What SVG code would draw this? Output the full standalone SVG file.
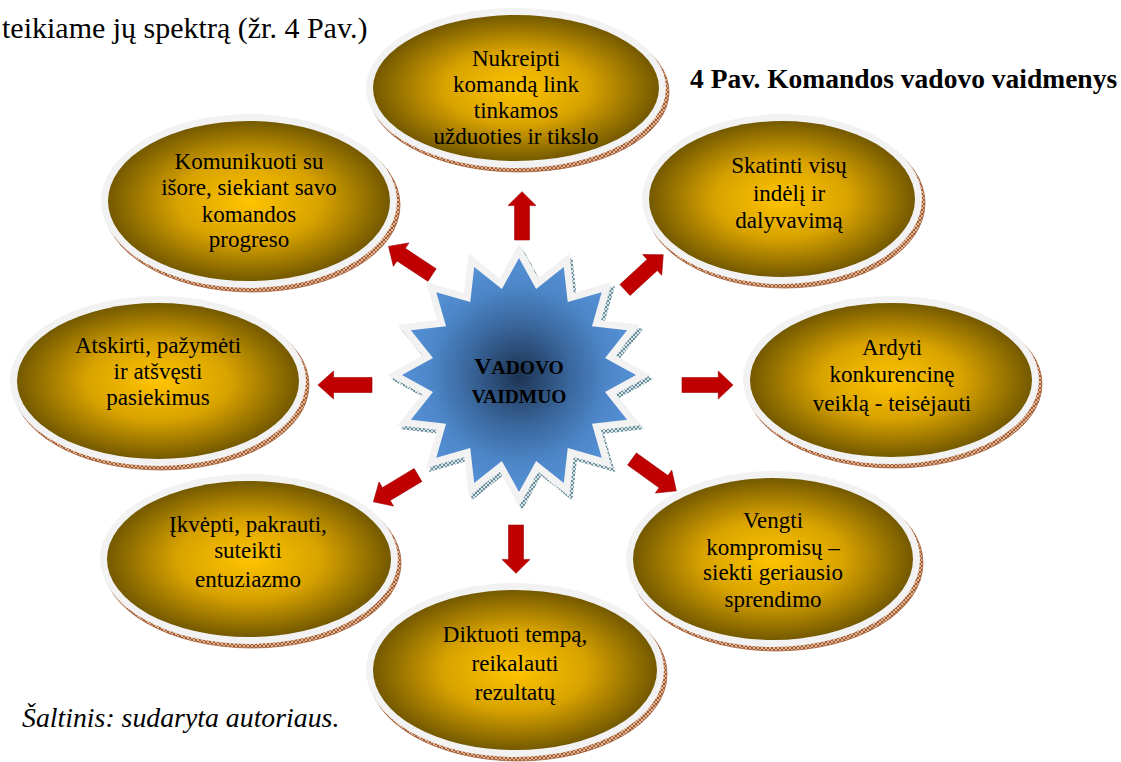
<svg xmlns="http://www.w3.org/2000/svg" width="1121" height="762" viewBox="0 0 1121 762">
<defs>
<radialGradient id="gold" cx="50%" cy="50%" r="50%">
<stop offset="0" stop-color="#ffc400"/>
<stop offset="0.5" stop-color="#d9a300"/>
<stop offset="1" stop-color="#745900"/>
</radialGradient>
<radialGradient id="blue" gradientUnits="userSpaceOnUse" cx="0" cy="0" r="117">
<stop offset="0" stop-color="#1d3352"/>
<stop offset="0.45" stop-color="#3a689e"/>
<stop offset="0.75" stop-color="#4d86c8"/>
<stop offset="1" stop-color="#5590d6"/>
</radialGradient>
<pattern id="hatchB" width="4" height="4" patternUnits="userSpaceOnUse">
<rect width="4" height="4" fill="#e2b898"/>
<path d="M0 4L4 0M0 0L4 4" stroke="#9a5028" stroke-width="0.9"/>
</pattern>
<pattern id="hatchT" width="4" height="4" patternUnits="userSpaceOnUse">
<rect width="4" height="4" fill="#d6e3e8"/>
<path d="M0 4L4 0M0 0L4 4" stroke="#4f7a88" stroke-width="0.8"/>
</pattern>
<path id="star" d="M0,-117 L17.12,-86.06 L44.77,-108.09 L48.75,-72.96 L82.73,-82.73 L72.96,-48.75 L108.09,-44.77 L86.06,-17.12 L117,0 L86.06,17.12 L108.09,44.77 L72.96,48.75 L82.73,82.73 L48.75,72.96 L44.77,108.09 L17.12,86.06 L0,117 L-17.12,86.06 L-44.77,108.09 L-48.75,72.96 L-82.73,82.73 L-72.96,48.75 L-108.09,44.77 L-86.06,17.12 L-117,0 L-86.06,-17.12 L-108.09,-44.77 L-72.96,-48.75 L-82.73,-82.73 L-48.75,-72.96 L-44.77,-108.09 L-17.12,-86.06 Z"/>
<path id="arrow" d="M0,-7.5 L37,-7.5 L37,-14 L52,0 L37,14 L37,7.5 L0,7.5 Z"/>
</defs>
<style>
.shadow{fill:url(#hatchB);stroke:#9a5028;stroke-width:0.7}
.rim{fill:#f2f2f2}
.core{fill:url(#gold)}
.t{font-size:23px;fill:#000;text-anchor:middle}
.arr{fill:#c00000;stroke:#a00000;stroke-width:0.6}
</style>

<g font-family="Liberation Serif, Times New Roman, serif" fill="#000">
<text x="2" y="38" font-size="30">teikiame jų spektrą (žr. 4 Pav.)</text>
<text x="690" y="88" font-size="27.5" font-weight="bold">4 Pav. Komandos vadovo vaidmenys</text>
<text x="22" y="727" font-size="27.8" font-style="italic">Šaltinis: sudaryta autoriaus.</text>
</g>

<g id="connectors">
<use href="#arrow" class="arr" transform="translate(522,240) rotate(-90) scale(0.93,1)"/>
<use href="#arrow" class="arr" transform="translate(516,525) rotate(90) scale(0.93,1)"/>
<use href="#arrow" class="arr" transform="translate(372,385) rotate(180) scale(1.04,1)"/>
<use href="#arrow" class="arr" transform="translate(682,385) rotate(0) scale(0.98,1)"/>
<use href="#arrow" class="arr" transform="translate(432,275) rotate(-146.6)"/>
<use href="#arrow" class="arr" transform="translate(625,290) rotate(-42.7)"/>
<use href="#arrow" class="arr" transform="translate(418,475) rotate(149)"/>
<use href="#arrow" class="arr" transform="translate(632,459) rotate(35.7) scale(1.05,1)"/>
</g>

<g font-family="Liberation Serif, Times New Roman, serif">
<g id="center">
<use href="#star" transform="translate(522,379)" fill="url(#hatchT)" stroke="url(#hatchT)" stroke-width="14" stroke-miterlimit="10"/>
<use href="#star" transform="translate(519,375)" fill="#f2f2f2" stroke="#f2f2f2" stroke-width="14" stroke-miterlimit="10"/>
<use href="#star" transform="translate(519,375)" fill="url(#blue)"/>
<text x="519" y="374" font-weight="bold" fill="#000" text-anchor="middle"><tspan font-size="24">V</tspan><tspan font-size="19.5">ADOVO</tspan></text>
<text x="519" y="403" font-weight="bold" font-size="19.5" fill="#000" text-anchor="middle">VAIDMUO</text>
</g>

<g id="n1">
<ellipse class="shadow" cx="519" cy="92" rx="150" ry="80"/>
<ellipse class="rim" cx="516" cy="88" rx="150" ry="80"/>
<ellipse class="core" cx="516" cy="88" rx="143" ry="73"/>
<text class="t" x="516" y="66">Nukreipti</text>
<text class="t" x="516" y="92">komandą link</text>
<text class="t" x="516" y="118">tinkamos</text>
<text class="t" x="516" y="144">užduoties ir tikslo</text>
</g>

<g id="n2">
<ellipse class="shadow" cx="252" cy="205" rx="148" ry="87"/>
<ellipse class="rim" cx="249" cy="201" rx="148" ry="87"/>
<ellipse class="core" cx="249" cy="201" rx="141" ry="80"/>
<text class="t" x="249" y="169">Komunikuoti su</text>
<text class="t" x="249" y="195">išore, siekiant savo</text>
<text class="t" x="249" y="222">komandos</text>
<text class="t" x="249" y="247">progreso</text>
</g>

<g id="n3">
<ellipse class="shadow" cx="785" cy="203" rx="140" ry="85"/>
<ellipse class="rim" cx="782" cy="199" rx="140" ry="85"/>
<ellipse class="core" cx="782" cy="199" rx="133" ry="78"/>
<text class="t" x="789" y="173">Skatinti visų</text>
<text class="t" x="789" y="201">indėlį ir</text>
<text class="t" x="789" y="228">dalyvavimą</text>
</g>

<g id="n4">
<ellipse class="shadow" cx="161" cy="385" rx="148" ry="85"/>
<ellipse class="rim" cx="158" cy="381" rx="148" ry="85"/>
<ellipse class="core" cx="158" cy="381" rx="141" ry="78"/>
<text class="t" x="158" y="353">Atskirti, pažymėti</text>
<text class="t" x="158" y="379">ir atšvęsti</text>
<text class="t" x="158" y="405">pasiekimus</text>
</g>

<g id="n5">
<ellipse class="shadow" cx="894" cy="384" rx="148" ry="84"/>
<ellipse class="rim" cx="891" cy="380" rx="148" ry="84"/>
<ellipse class="core" cx="891" cy="380" rx="141" ry="77"/>
<text class="t" x="892" y="355">Ardyti</text>
<text class="t" x="892" y="382">konkurencinę</text>
<text class="t" x="892" y="411">veiklą - teisėjauti</text>
</g>

<g id="n6">
<ellipse class="shadow" cx="252" cy="563" rx="149" ry="85"/>
<ellipse class="rim" cx="249" cy="559" rx="149" ry="85"/>
<ellipse class="core" cx="249" cy="559" rx="142" ry="78"/>
<text class="t" x="248" y="532">Įkvėpti, pakrauti,</text>
<text class="t" x="248" y="558">suteikti</text>
<text class="t" x="248" y="587">entuziazmo</text>
</g>

<g id="n7">
<ellipse class="shadow" cx="776" cy="563" rx="147" ry="88"/>
<ellipse class="rim" cx="773" cy="559" rx="147" ry="88"/>
<ellipse class="core" cx="773" cy="559" rx="140" ry="81"/>
<text class="t" x="773" y="528">Vengti</text>
<text class="t" x="773" y="555">kompromisų –</text>
<text class="t" x="773" y="580">siekti geriausio</text>
<text class="t" x="773" y="607">sprendimo</text>
</g>

<g id="n8">
<ellipse class="shadow" cx="518" cy="674" rx="149" ry="87"/>
<ellipse class="rim" cx="515" cy="670" rx="149" ry="87"/>
<ellipse class="core" cx="515" cy="670" rx="142" ry="80"/>
<text class="t" x="515" y="642">Diktuoti tempą,</text>
<text class="t" x="515" y="671">reikalauti</text>
<text class="t" x="515" y="700">rezultatų</text>
</g>
</g>
</svg>
